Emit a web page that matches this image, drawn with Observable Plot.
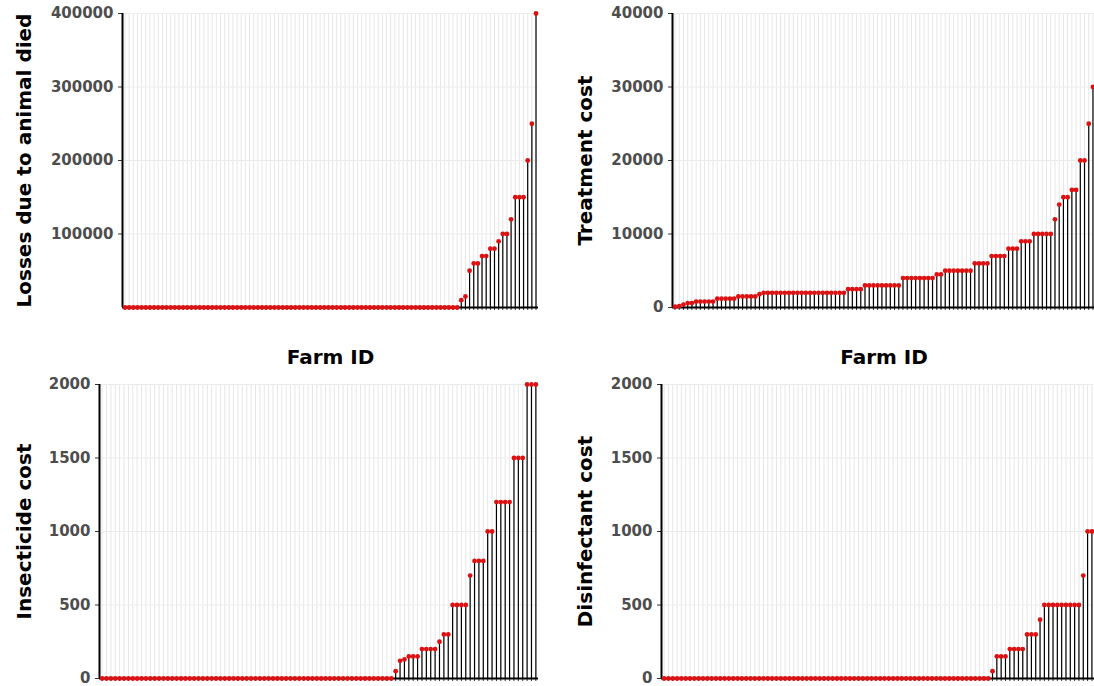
<!DOCTYPE html>
<html><head><meta charset="utf-8">
<script src="https://cdn.jsdelivr.net/npm/d3@7"></script>
<script src="https://cdn.jsdelivr.net/npm/@observablehq/plot@0.6"></script>
<style>
body{margin:0;background:#fff;}
#wrap{position:relative;width:1094px;height:686px;overflow:hidden;background:#fff;}
#wrap svg{position:absolute;overflow:visible;max-width:none;}
</style></head><body><div id="wrap"></div>
<script>
// Values per farm, sorted ascending (100 farms)
const lossesAnimalDied = [
  0,0,0,0,0,0,0,0,0,0, 0,0,0,0,0,0,0,0,0,0, 0,0,0,0,0,0,0,0,0,0, 0,0,0,0,0,0,0,0,0,0,
  0,0,0,0,0,0,0,0,0,0, 0,0,0,0,0,0,0,0,0,0, 0,0,0,0,0,0,0,0,0,0, 0,0,0,0,0,0,0,0,0,0,
  0,10000,15000,50000,60000,60000,70000,70000,80000,80000,
  90000,100000,100000,120000,150000,150000,150000,200000,250000,400000
];
const treatmentCost = [
  100,200,400,600,600,800,800,800,800,800,
  1200,1200,1200,1200,1200,1500,1500,1500,1500,1500,
  1800,2000,2000,2000,2000,2000,2000,2000,2000,2000,
  2000,2000,2000,2000,2000,2000,2000,2000,2000,2000,
  2000,2500,2500,2500,2500,3000,3000,3000,3000,3000,
  3000,3000,3000,3000,4000,4000,4000,4000,4000,4000,
  4000,4000,4500,4500,5000,5000,5000,5000,5000,5000,
  5000,6000,6000,6000,6000,7000,7000,7000,7000,8000,
  8000,8000,9000,9000,9000,10000,10000,10000,10000,10000,
  12000,14000,15000,15000,16000,16000,20000,20000,25000,30000
];
const insecticideCost = [
  0,0,0,0,0,0,0,0,0,0, 0,0,0,0,0,0,0,0,0,0, 0,0,0,0,0,0,0,0,0,0, 0,0,0,0,0,0,0,0,0,0,
  0,0,0,0,0,0,0,0,0,0, 0,0,0,0,0,0,0,0,0,0, 0,0,0,0,0,0,0,
  50,120,130,150,150,150,200,200,200,200,250,300,300,
  500,500,500,500,700,800,800,800,1000,1000,
  1200,1200,1200,1200,1500,1500,1500,2000,2000,2000
];
const disinfectantCost = [
  0,0,0,0,0,0,0,0,0,0, 0,0,0,0,0,0,0,0,0,0, 0,0,0,0,0,0,0,0,0,0, 0,0,0,0,0,0,0,0,0,0,
  0,0,0,0,0,0,0,0,0,0, 0,0,0,0,0,0,0,0,0,0, 0,0,0,0,0,0,0,0,0,0, 0,0,0,0,0,0,
  50,150,150,150,200,200,200,200,300,300,300,400,
  500,500,500,500,500,500,500,500,500,700,1000,1000
];
const yTitles = ["Losses due to animal died", "Treatment cost", "Insecticide cost", "Disinfectant cost"];
const xTitle = "Farm ID";
const ticksLosses = [100000, 200000, 300000, 400000];
const ticksTreatment = [0, 10000, 20000, 30000, 40000];
const ticksSmall = [0, 500, 1000, 1500, 2000];

const FONT = "'DejaVu Sans', sans-serif";
const wrap = document.getElementById("wrap");

function panel(values, cfg) {
  const n = values.length;
  const data = values.map((v, i) => ({i, v}));
  const idx = data.map(d => d.i);
  const x0 = -0.6, x1 = n - 1 + 0.6;
  const marks = [
    Plot.ruleX(idx, {x: d => d, stroke: "#e6e6e6", strokeWidth: 1}),
    Plot.ruleY(cfg.ticks, {y: d => d, stroke: "#ececec", strokeWidth: 1}),
    Plot.ruleX(data, {x: "i", y1: 0, y2: "v", stroke: "#000", strokeWidth: 1.2}),
    Plot.axisX(idx, {tickSize: 3, tickFormat: () => "", stroke: "#333", label: null}),
    Plot.axisY(cfg.ticks, {tickSize: 4, tickPadding: 5, stroke: "#333", fill: "#4d4d4d",
      tickFormat: d => String(d),
      fontSize: 15, fontWeight: "bold", fontFamily: FONT, label: null}),
    Plot.ruleX([x0], {stroke: "#000", strokeWidth: 2}),
    Plot.ruleY([0], {stroke: "#000", strokeWidth: 2}),
    Plot.dot(data, {x: "i", y: "v", fill: "#dd1111", r: 2.4}),
    Plot.text([cfg.title], {frameAnchor: "left", rotate: -90, dx: cfg.titleDx,
      textAnchor: "middle", lineAnchor: "middle",
      fontSize: 20, fontWeight: "bold", fontFamily: FONT, fill: "#000"})
  ];
  if (cfg.farmTitle) {
    marks.push(Plot.text([xTitle], {frameAnchor: "bottom", dy: 50,
      textAnchor: "middle", lineAnchor: "middle",
      fontSize: 20, fontWeight: "bold", fontFamily: FONT, fill: "#000"}));
  }
  const svg = Plot.plot({
    width: cfg.width, height: cfg.height,
    marginLeft: cfg.ml, marginRight: cfg.mr, marginTop: cfg.mt, marginBottom: cfg.mb,
    x: {type: "linear", domain: [x0, x1]},
    y: {type: "linear", domain: [0, cfg.max]},
    style: {fontFamily: FONT, background: "transparent", overflow: "visible"},
    marks
  });
  svg.style.left = cfg.left + "px";
  svg.style.top = cfg.top + "px";
  svg.style.width = cfg.width + "px";
  svg.style.height = cfg.height + "px";
  wrap.appendChild(svg);
}

// top-left
panel(lossesAnimalDied, {title: yTitles[0], ticks: ticksLosses, max: 400000,
  left: 0, top: 0, width: 547, height: 372, ml: 122, mr: 9, mt: 13, mb: 65, titleDx: -98, farmTitle: true});
// top-right
panel(treatmentCost, {title: yTitles[1], ticks: ticksTreatment, max: 40000,
  left: 547, top: 0, width: 553, height: 372, ml: 125, mr: 5, mt: 13, mb: 65, titleDx: -87, farmTitle: true});
// bottom-left
panel(insecticideCost, {title: yTitles[2], ticks: ticksSmall, max: 2000,
  left: 0, top: 372, width: 547, height: 314, ml: 99, mr: 9, mt: 12, mb: 8, titleDx: -75, farmTitle: false});
// bottom-right
panel(disinfectantCost, {title: yTitles[3], ticks: ticksSmall, max: 2000,
  left: 547, top: 372, width: 553, height: 314, ml: 114, mr: 6, mt: 12, mb: 8, titleDx: -76, farmTitle: false});
</script>
</body></html>
